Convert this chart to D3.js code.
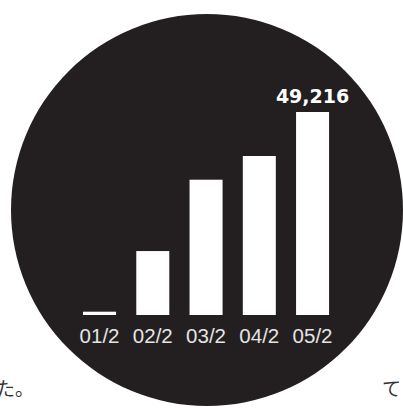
<!DOCTYPE html>
<html lang="ja">
  <head>
    <meta charset="UTF-8" />
    <title>chart</title>
    <script src="https://d3js.org/d3.v7.min.js"></script>
    <style>
      body { margin: 0; background: #fff; overflow: hidden; }
    </style>
  </head>
  <body>
    <script>
      const width = 403;
      const height = 408;

      // data
      const dates = ["01/2", "02/2", "03/2", "04/2", "05/2"];
      const values = [800, 15500, 32800, 38550, 49216];
      const labelIndex = [4]; // only the last bar carries its value

      const svg = d3
        .select("body")
        .append("svg")
        .attr("width", width)
        .attr("height", height);

      // big dark disc behind the bars
      svg.append("circle")
        .attr("cx", 207)
        .attr("cy", 210)
        .attr("r", 196)
        .attr("fill", "#231f20");

      const x = d3.scaleBand()
        .domain(dates)
        .range([72.9, 339.2])
        .paddingInner(0.38)
        .paddingOuter(0.19);

      const y = d3.scaleLinear()
        .domain([0, d3.max(values)])
        .range([315, 112]);

      const g = svg.append("g");

      g.selectAll("rect")
        .data(dates)
        .join("rect")
        .attr("x", d => x(d))
        .attr("y", (d, i) => y(values[i]))
        .attr("width", x.bandwidth())
        .attr("height", (d, i) => y(0) - y(values[i]))
        .attr("fill", "#fff");

      // value label over the top bar
      g.selectAll("text.val")
        .data(labelIndex)
        .join("text")
        .attr("class", "val")
        .attr("x", i => x(dates[i]) + x.bandwidth() / 2)
        .attr("y", i => y(values[i]) - 9)
        .attr("text-anchor", "middle")
        .style("font-family", "'DejaVu Sans', sans-serif")
        .style("font-weight", "bold")
        .style("font-size", "19px")
        .attr("fill", "#fff")
        .text(i => d3.format(",")(values[i]));

      const axis = svg.append("g")
        .attr("transform", `translate(0, ${y(0)})`)
        .call(d3.axisBottom(x).tickSize(0).tickPadding(13));
      axis.select(".domain").remove();
      axis.selectAll("text")
        .attr("fill", "#e4e4e4")
        .style("font-family", "'Liberation Sans', Arial, sans-serif")
        .style("font-size", "20.5px");

      // fragments of the surrounding article text
      svg.append("text")
        .attr("x", -4)
        .attr("y", 396)
        .style("font-family", "'Noto Sans CJK JP', sans-serif")
        .style("font-size", "19px")
        .attr("fill", "#333")
        .text("た。");
      svg.append("text")
        .attr("x", 382)
        .attr("y", 396)
        .style("font-family", "'Noto Sans CJK JP', sans-serif")
        .style("font-size", "19px")
        .attr("fill", "#333")
        .text("て");
    </script>
  </body>
</html>
